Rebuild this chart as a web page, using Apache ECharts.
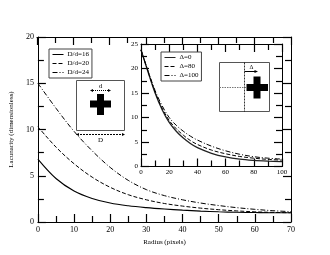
<!DOCTYPE html>
<html><head><meta charset="utf-8">
<script src="https://cdn.jsdelivr.net/npm/echarts@6/dist/echarts.min.js"></script>
<style>html,body{margin:0;padding:0;background:#fff}#c{width:330px;height:255px}</style>
</head><body><div id="c"></div>
<script>
// ---- data ----
var radiusMain = [0,5,10,15,20,25,30,35,40,45,50,55,60,65,70];
var lacD16 = [6.8,4.7,3.35,2.55,2.05,1.75,1.55,1.4,1.28,1.18,1.1,1.05,1.02,1.0,1.0];
var lacD20 = [10.3,8.1,6.3,4.85,3.75,2.95,2.4,2.0,1.72,1.5,1.33,1.2,1.1,1.04,1.0];
var lacD24 = [15.0,12.3,9.8,7.7,5.9,4.5,3.5,2.85,2.4,2.05,1.78,1.55,1.37,1.22,1.12];
var radiusInset = [0,5,10,15,20,25,30,35,40,50,60,70,80,90,100];
var lacDelta0   = [23.8,19.3,15.0,11.6,9.0,7.2,5.8,4.7,3.85,2.7,1.95,1.5,1.25,1.1,1.0];
var lacDelta80  = [23.8,19.4,15.2,11.9,9.4,7.7,6.4,5.3,4.5,3.35,2.6,2.05,1.7,1.45,1.3];
var lacDelta100 = [23.8,19.5,15.5,12.4,10.0,8.4,7.2,6.2,5.4,4.15,3.2,2.5,2.0,1.7,1.5];
var mainNames = ['D/d=16','D/d=20','D/d=24'];
var insetNames = ['\u0394=0','\u0394=80','\u0394=100'];
var xTitle = 'Radius (pixels)';
var yTitle = 'Lacunarity (dimensionless)';

function pairs(xs, ys){ return xs.map(function(x,i){ return [x, ys[i]]; }); }

var FONT = 'Liberation Serif';
function axisBase(opt){
  var a = {
    axisLine:{show:true,onZero:false,lineStyle:{color:'#000',width:1}},
    axisTick:{show:true,inside:true,length:8,lineStyle:{color:'#000',width:1.2}},
    minorTick:{show:true,splitNumber:2,length:6,lineStyle:{color:'#000',width:1.2}},
    splitLine:{show:false},
    axisLabel:{color:'#000',fontFamily:FONT,fontSize:8,margin:4}
  };
  for (var k in opt) a[k]=opt[k];
  return a;
}
var MAIN = {left:37, top:37, width:254, height:185};
var INSET = {left:141, top:44, width:141, height:122.5};

var chart = echarts.init(document.getElementById('c'), null, {renderer:'canvas'});
var option = {
  backgroundColor:'#fff',
  animation:false,
  grid:[
    {left:MAIN.left, top:MAIN.top, width:MAIN.width, height:MAIN.height, z:2},
    {left:MAIN.left, top:MAIN.top, width:MAIN.width, height:MAIN.height, z:2},
    {left:INSET.left, top:INSET.top, width:INSET.width, height:INSET.height, show:true, backgroundColor:'#fff', borderWidth:0, z:5},
    {left:INSET.left, top:INSET.top, width:INSET.width, height:INSET.height, z:6}
  ],
  xAxis:[
    axisBase({type:'value', gridIndex:0, min:0, max:70, interval:10, position:'bottom',
      name:xTitle, nameLocation:'middle', nameGap:10, nameTextStyle:{fontFamily:FONT,fontSize:7,color:'#000'}}),
    axisBase({type:'value', gridIndex:1, min:0, max:70, interval:10, position:'top', axisLabel:{show:false}}),
    axisBase({type:'value', gridIndex:2, min:0, max:100, interval:20, position:'bottom', z:6,
      axisLabel:{color:'#000',fontFamily:FONT,fontSize:7,margin:2}}),
    axisBase({type:'value', gridIndex:3, min:0, max:100, interval:20, position:'top', z:6, axisLabel:{show:false}})
  ],
  yAxis:[
    axisBase({type:'value', gridIndex:0, min:0, max:20, interval:5, position:'left',
      name:yTitle, nameLocation:'middle', nameGap:5, nameTextStyle:{fontFamily:FONT,fontSize:7,color:'#000'}}),
    axisBase({type:'value', gridIndex:1, min:0, max:20, interval:5, position:'right', axisLabel:{show:false}}),
    axisBase({type:'value', gridIndex:2, min:0, max:25, interval:5, position:'left', z:6,
      axisLabel:{color:'#000',fontFamily:FONT,fontSize:7,margin:3}}),
    axisBase({type:'value', gridIndex:3, min:0, max:25, interval:5, position:'right', z:6, axisLabel:{show:false}})
  ],
  legend:[
    {data:mainNames, left:49, top:49, orient:'vertical', itemWidth:11, itemHeight:6, itemGap:2,
     padding:[2,3,2,3], borderColor:'#444', borderWidth:1, backgroundColor:'#fff',
     itemStyle:{opacity:0}, lineStyle:{width:1},
     textStyle:{fontFamily:FONT,fontSize:7,color:'#000',padding:[0,0,0,-1]}},
    {data:insetNames, left:161, top:52, orient:'vertical', itemWidth:11, itemHeight:6, itemGap:2,
     padding:[2,3,2,3], borderColor:'#444', borderWidth:1, backgroundColor:'#fff', z:8,
     itemStyle:{opacity:0}, lineStyle:{width:1},
     textStyle:{fontFamily:FONT,fontSize:7,color:'#000',padding:[0,0,0,-1]}}
  ],
  series:[
    {name:mainNames[0], type:'line', xAxisIndex:0, yAxisIndex:0, smooth:0.35, symbol:'none',
     data:pairs(radiusMain, lacD16), lineStyle:{color:'#000',width:1.1,type:'solid'}, itemStyle:{color:'#000'}},
    {name:mainNames[1], type:'line', xAxisIndex:0, yAxisIndex:0, smooth:0.35, symbol:'none',
     data:pairs(radiusMain, lacD20), lineStyle:{color:'#000',width:1,type:[4,2]}, itemStyle:{color:'#000'}},
    {name:mainNames[2], type:'line', xAxisIndex:0, yAxisIndex:0, smooth:0.35, symbol:'none',
     data:pairs(radiusMain, lacD24), lineStyle:{color:'#000',width:1,type:[5,2,1,2]}, itemStyle:{color:'#000'}},
    {name:insetNames[0], type:'line', xAxisIndex:2, yAxisIndex:2, smooth:0.35, symbol:'none', z:7,
     data:pairs(radiusInset, lacDelta0), lineStyle:{color:'#222',width:1.3,type:'solid'}, itemStyle:{color:'#222'}},
    {name:insetNames[1], type:'line', xAxisIndex:2, yAxisIndex:2, smooth:0.35, symbol:'none', z:7,
     data:pairs(radiusInset, lacDelta80), lineStyle:{color:'#000',width:1,type:[4,2]}, itemStyle:{color:'#000'}},
    {name:insetNames[2], type:'line', xAxisIndex:2, yAxisIndex:2, smooth:0.35, symbol:'none', z:7,
     data:pairs(radiusInset, lacDelta100), lineStyle:{color:'#000',width:1,type:[5,2,1,2]}, itemStyle:{color:'#000'}}
  ],
  graphic:[
    // main diagram
    {type:'rect', shape:{x:76.5,y:80.5,width:48,height:50}, style:{fill:'#fff',stroke:'#555',lineWidth:1}, z:10},
    {type:'rect', shape:{x:90,y:100.5,width:21,height:7}, style:{fill:'#000'}, z:11},
    {type:'rect', shape:{x:97,y:94,width:7,height:21}, style:{fill:'#000'}, z:11},
    {type:'line', shape:{x1:91,y1:90.5,x2:110,y2:90.5}, style:{stroke:'#000',lineWidth:1,lineDash:[1,1]}, z:11},
    {type:'polygon', shape:{points:[[90,90.5],[93,89],[93,92]]}, style:{fill:'#000'}, z:11},
    {type:'polygon', shape:{points:[[111,90.5],[108,89],[108,92]]}, style:{fill:'#000'}, z:11},
    {type:'text', style:{text:'d', x:100.5, y:86, align:'center', verticalAlign:'middle', font:'7px "Liberation Serif"', fill:'#000'}, z:11},
    {type:'line', shape:{x1:77,y1:134.5,x2:124,y2:134.5}, style:{stroke:'#000',lineWidth:1,lineDash:[2,1]}, z:11},
    {type:'polygon', shape:{points:[[76,134.5],[79,133],[79,136]]}, style:{fill:'#000'}, z:11},
    {type:'polygon', shape:{points:[[125,134.5],[122,133],[122,136]]}, style:{fill:'#000'}, z:11},
    {type:'text', style:{text:'D', x:100.5, y:140.5, align:'center', verticalAlign:'middle', font:'7px "Liberation Serif"', fill:'#000'}, z:11},
    // inset diagram
    {type:'rect', shape:{x:219.5,y:62.5,width:50,height:49}, style:{fill:'#fff',stroke:'#555',lineWidth:1}, z:10},
    {type:'line', shape:{x1:244.5,y1:62.5,x2:244.5,y2:111.5}, style:{stroke:'#000',lineWidth:0.8,lineDash:[2,1]}, z:11},
    {type:'line', shape:{x1:219.5,y1:87.5,x2:247,y2:87.5}, style:{stroke:'#777',lineWidth:1.2,lineDash:[1.5,1]}, z:11},
    {type:'rect', shape:{x:246.5,y:84,width:21.5,height:7}, style:{fill:'#000'}, z:11},
    {type:'rect', shape:{x:253.5,y:76.5,width:7,height:22}, style:{fill:'#000'}, z:11},
    {type:'line', shape:{x1:244.5,y1:71.5,x2:255,y2:71.5}, style:{stroke:'#000',lineWidth:1}, z:11},
    {type:'polygon', shape:{points:[[258,71.5],[254.5,70],[254.5,73]]}, style:{fill:'#000'}, z:11},
    {type:'text', style:{text:'\u0394', x:251.5, y:67.5, align:'center', verticalAlign:'middle', font:'6px "Liberation Serif"', fill:'#000'}, z:11}
  ]
};
chart.setOption(option);
</script></body></html>
